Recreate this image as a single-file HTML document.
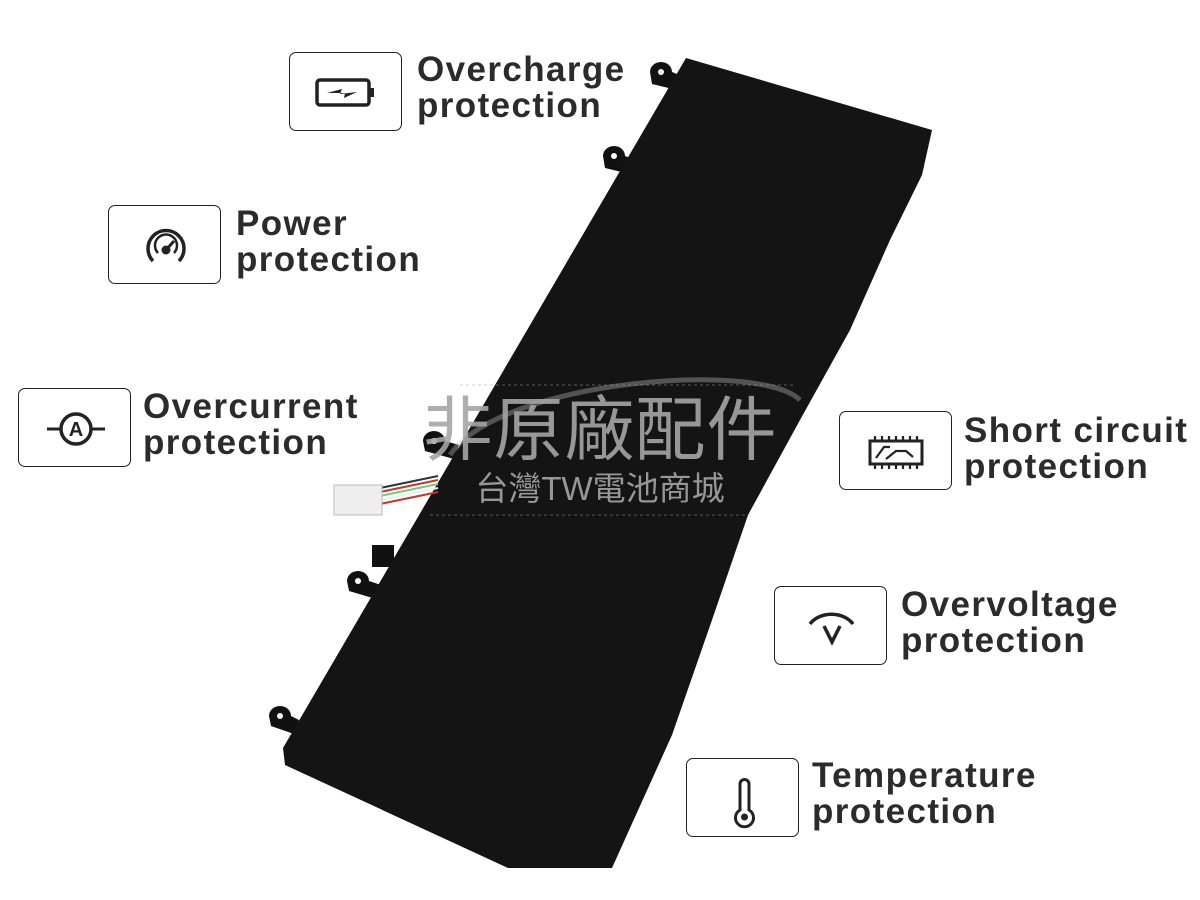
<!DOCTYPE html>
<html><head><meta charset="utf-8"><style>
body{margin:0;width:1200px;height:900px;background:#fff;position:relative;overflow:hidden;font-family:"Liberation Sans",sans-serif}
.b{position:absolute;width:113px;height:79px;border:1.5px solid #222;border-radius:7px;box-sizing:border-box;background:#fff}
.b svg{position:absolute;left:0;top:0}
.t{position:absolute;font-weight:bold;font-size:35px;line-height:36px;color:#2b2b2b;letter-spacing:1.4px}
.wm{position:absolute;font-family:"Liberation Sans","Noto Sans CJK TC",sans-serif;color:rgba(165,165,165,0.9);text-align:center;width:600px;left:300px}
</style></head><body>
<svg width="1200" height="900" style="position:absolute;left:0;top:0">
<g fill="#111">
<path d="M650,72 a11,10 0 0 1 22,0 l10,4 l-5,14 l-25,-6 z"/>
<path d="M603,156 a11,10 0 0 1 22,0 l10,4 l-5,14 l-25,-6 z"/>
<path d="M423,441 a11,10 0 0 1 22,0 l14,4 l-5,14 l-29,-8 z"/>
<path d="M347,581 a11,10 0 0 1 22,0 l12,4 l-5,14 l-27,-8 z"/>
<path d="M269,716 a11,10 0 0 1 22,0 l8,4 l-5,14 l-23,-8 z"/>
<rect x="372" y="545" width="22" height="22"/>
</g>
<g fill="#fff"><circle cx="661" cy="72" r="3"/><circle cx="614" cy="156" r="3"/><circle cx="434" cy="441" r="3"/><circle cx="358" cy="581" r="3"/><circle cx="280" cy="716" r="3"/></g>
<polygon points="686,58 932,130 922,175 890,240 850,330 800,420 748,515 712,620 672,735 612,868 508,868 285,765 283,748" fill="#141414"/>
<g stroke-width="2" fill="none">
<path d="M380,492 L438,480" stroke="#c33"/><path d="M380,496 L438,484" stroke="#7c7"/><path d="M380,500 L438,488" stroke="#eee"/><path d="M380,488 L438,476" stroke="#333"/><path d="M380,504 L438,492" stroke="#c33"/>
</g>
<rect x="334" y="485" width="48" height="30" fill="#eee" stroke="#bbb"/>
<path d="M450,455 C500,380 760,360 800,400" fill="none" stroke="rgba(200,200,200,0.35)" stroke-width="5"/>
<path d="M460,385 H795 M430,515 H750" stroke="rgba(160,160,160,0.5)" stroke-dasharray="3,3"/>
</svg>
<div class="wm" style="top:390px;font-size:70px;line-height:80px;letter-spacing:1px">非原廠配件</div>
<div class="wm" style="top:470px;font-size:33px;line-height:38px">台灣TW電池商城</div>

<div class="b" style="left:289px;top:52px"><svg width="113" height="79"><rect x="27" y="27" width="52" height="25" rx="3" fill="none" stroke="#222" stroke-width="3.5"/><rect x="80" y="35" width="4" height="9" fill="#222"/><path d="M37,40 L52,36 L50,41 L67,39 L54,45 L55,40 Z" fill="#222"/></svg></div>
<div class="t" style="left:417px;top:52px">Overcharge<br>protection</div>

<div class="b" style="left:108px;top:205px"><svg width="113" height="79"><path d="M44,55 A18,18 0 1 1 70,55" fill="none" stroke="#222" stroke-width="3.5"/><path d="M49,47 A11,11 0 1 1 65,47" fill="none" stroke="#222" stroke-width="2.5"/><circle cx="57" cy="44" r="4.5" fill="#222"/><path d="M57,44 L65,35" stroke="#222" stroke-width="3"/></svg></div>
<div class="t" style="left:236px;top:206px">Power<br>protection</div>

<div class="b" style="left:18px;top:388px"><svg width="113" height="79"><circle cx="57" cy="40" r="15" fill="none" stroke="#222" stroke-width="3.5"/><path d="M28,40 H42 M72,40 H86" stroke="#222" stroke-width="3"/><text x="57" y="47" font-size="20" font-weight="bold" text-anchor="middle" fill="#222" font-family="Liberation Sans">A</text></svg></div>
<div class="t" style="left:143px;top:389px">Overcurrent<br>protection</div>

<div class="b" style="left:839px;top:411px"><svg width="113" height="79"><rect x="30" y="29" width="52" height="23" fill="none" stroke="#222" stroke-width="3"/><path d="M35,24 V29 M42,24 V29 M49,24 V29 M56,24 V29 M63,24 V29 M70,24 V29 M77,24 V29 M35,52 V57 M42,52 V57 M49,52 V57 M56,52 V57 M63,52 V57 M70,52 V57 M77,52 V57 M36,46 L44,35 H50 M46,47 L56,39 H66 L73,45" stroke="#222" stroke-width="2.2" fill="none"/></svg></div>
<div class="t" style="left:964px;top:413px">Short circuit<br>protection</div>

<div class="b" style="left:774px;top:586px"><svg width="113" height="79"><path d="M35,37 A25,20 0 0 1 78,37" fill="none" stroke="#222" stroke-width="3.5"/><path d="M49,39 L57,55 L65,39" fill="none" stroke="#222" stroke-width="3.5"/></svg></div>
<div class="t" style="left:901px;top:587px">Overvoltage<br>protection</div>

<div class="b" style="left:686px;top:758px"><svg width="113" height="79"><path d="M53,51 V25 A4.5,4.5 0 0 1 62,25 V51 A9,9 0 1 1 53,51 Z" fill="none" stroke="#222" stroke-width="3"/><circle cx="57.5" cy="58" r="3.5" fill="#222"/></svg></div>
<div class="t" style="left:812px;top:758px">Temperature<br>protection</div>
</body></html>
